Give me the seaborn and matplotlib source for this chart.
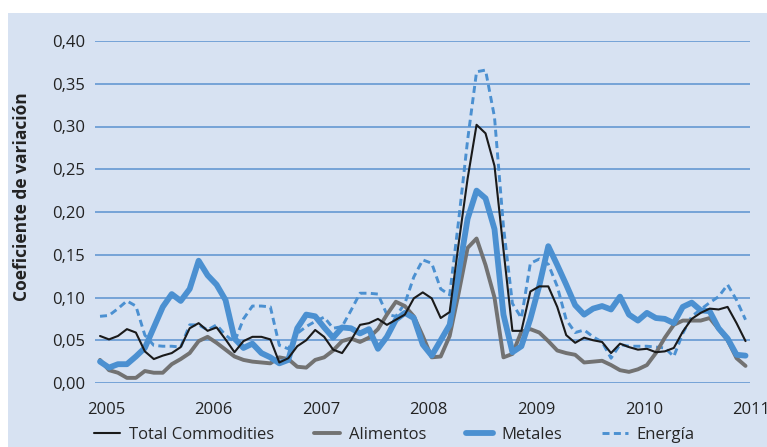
import numpy as np
import pandas as pd
import seaborn as sns
import matplotlib.pyplot as plt
from matplotlib.patches import Rectangle

# monthly coefficient of variation, Jan 2005 .. Jan 2011
total = [0.055, 0.051, 0.055, 0.063, 0.059, 0.037, 0.028, 0.032, 0.035, 0.042,
         0.064, 0.070, 0.061, 0.065, 0.051, 0.036, 0.049, 0.054, 0.054, 0.051,
         0.024, 0.029, 0.043, 0.050, 0.062, 0.054, 0.039, 0.035, 0.050, 0.068,
         0.070, 0.075, 0.068, 0.074, 0.080, 0.099, 0.106, 0.099, 0.076, 0.083,
         0.163, 0.239, 0.302, 0.292, 0.254, 0.156, 0.061, 0.061, 0.107, 0.113,
         0.113, 0.089, 0.056, 0.047, 0.053, 0.050, 0.048, 0.035, 0.046, 0.042,
         0.039, 0.040, 0.036, 0.037, 0.041, 0.060, 0.075, 0.082, 0.087, 0.086,
         0.089, 0.070, 0.049]
alimentos = [0.027, 0.015, 0.012, 0.006, 0.006, 0.014, 0.012, 0.012, 0.022, 0.028,
             0.035, 0.049, 0.054, 0.047, 0.039, 0.031, 0.027, 0.025, 0.024, 0.023,
             0.030, 0.028, 0.019, 0.018, 0.027, 0.030, 0.038, 0.049, 0.052, 0.048,
             0.053, 0.063, 0.080, 0.095, 0.090, 0.078, 0.055, 0.030, 0.031, 0.055,
             0.105, 0.158, 0.169, 0.138, 0.100, 0.030, 0.034, 0.060, 0.063, 0.059,
             0.049, 0.038, 0.035, 0.033, 0.024, 0.025, 0.026, 0.021, 0.015, 0.013,
             0.016, 0.021, 0.035, 0.053, 0.068, 0.073, 0.073, 0.073, 0.076, 0.063,
             0.050, 0.029, 0.020]
metales = [0.025, 0.018, 0.022, 0.022, 0.031, 0.041, 0.065, 0.089, 0.104, 0.096,
           0.110, 0.143, 0.126, 0.115, 0.097, 0.052, 0.041, 0.046, 0.035, 0.030,
           0.023, 0.027, 0.064, 0.080, 0.078, 0.065, 0.053, 0.065, 0.064, 0.058,
           0.063, 0.040, 0.054, 0.074, 0.082, 0.076, 0.045, 0.032, 0.050, 0.068,
           0.128, 0.192, 0.225, 0.216, 0.180, 0.080, 0.036, 0.043, 0.075, 0.114,
           0.160, 0.138, 0.115, 0.091, 0.080, 0.087, 0.090, 0.086, 0.101, 0.080,
           0.073, 0.082, 0.076, 0.075, 0.070, 0.089, 0.094, 0.085, 0.084, 0.064,
           0.052, 0.033, 0.032]
energia = [0.078, 0.079, 0.087, 0.096, 0.090, 0.056, 0.044, 0.043, 0.043, 0.042,
           0.068, 0.068, 0.062, 0.068, 0.056, 0.048, 0.075, 0.090, 0.090, 0.089,
           0.044, 0.040, 0.058, 0.066, 0.072, 0.077, 0.064, 0.066, 0.085, 0.105,
           0.105, 0.104, 0.080, 0.078, 0.093, 0.124, 0.144, 0.140, 0.110, 0.103,
           0.190, 0.284, 0.364, 0.366, 0.311, 0.183, 0.093, 0.076, 0.140, 0.145,
           0.139, 0.113, 0.074, 0.059, 0.062, 0.054, 0.048, 0.029, 0.045, 0.043,
           0.043, 0.043, 0.042, 0.041, 0.031, 0.058, 0.078, 0.086, 0.094, 0.101,
           0.115, 0.097, 0.074]
years = ['2005', '2006', '2007', '2008', '2009', '2010', '2011']
yticks = [0.0, 0.05, 0.10, 0.15, 0.20, 0.25, 0.30, 0.35, 0.40]

month = np.arange(len(total))
df = pd.DataFrame({'mes': month, 'Total Commodities': total, 'Alimentos': alimentos,
                   'Metales': metales, 'Energía': energia})

bg = '#d7e2f2'
blue = '#4b90d1'

sns.set_style('white')
plt.rcParams['font.family'] = ['Open Sans', 'DejaVu Sans']

fig = plt.figure(figsize=(7.67, 4.47), dpi=100)
fig.patch.set_facecolor('white')
fig.add_artist(Rectangle((8 / 767, 0), 1, 1 - 13 / 447, transform=fig.transFigure,
                         facecolor=bg, edgecolor='none', zorder=-10))
ax = fig.add_axes([95 / 767, 64 / 447, 655 / 767, 342 / 447])
ax.set_facecolor(bg)

# draw order: energy dashed, foods, metals, total on top
sns.lineplot(data=df, x='mes', y='Energía', ax=ax, color=blue, lw=2.1,
             linestyle=(0, (2.4, 1.5)), label='Energía', zorder=3)
sns.lineplot(data=df, x='mes', y='Alimentos', ax=ax, color='#727272', lw=2.8,
             label='Alimentos', zorder=4)
sns.lineplot(data=df, x='mes', y='Metales', ax=ax, color=blue, lw=4.2,
             label='Metales', zorder=5)
sns.lineplot(data=df, x='mes', y='Total Commodities', ax=ax, color='#1a1a1a', lw=1.5,
             label='Total Commodities', zorder=6)

ax.set_xlim(-0.56, 72.5)
ax.set_ylim(0, 0.40)
ax.set_yticks(yticks)
ax.set_yticklabels([f'{v:.2f}'.replace('.', ',') for v in yticks], fontsize=12, color='#222222')
ax.yaxis.grid(True, color='#5a92cf', lw=1.1)
ax.set_axisbelow(True)
ax.tick_params(axis='y', length=0, pad=7)
ax.set_xticks([])
ax.set_xlabel('')
ax.set_ylabel('Coeficiente de variación', fontsize=12.5, fontweight='bold',
              color='#222222', labelpad=8)
ax.yaxis.set_label_coords(-0.097, 0.545)
for s in ax.spines.values():
    s.set_visible(False)

# year labels under the axis (2011 runs off the right edge, as in the source)
for k, yr in enumerate(years):
    ax.text(12 * k + 0.67, -0.031, yr, ha='center', va='center', fontsize=12,
            color='#222222', transform=ax.transData, clip_on=False)

handles, labels = ax.get_legend_handles_labels()
order = [labels.index(n) for n in ['Total Commodities', 'Alimentos', 'Metales', 'Energía']]
ax.get_legend().remove()
fig.legend([handles[i] for i in order], [labels[i] for i in order], loc='center',
           bbox_to_anchor=(0.514, 0.027), ncol=4, frameon=False, fontsize=12,
           handlelength=1.6, handletextpad=0.5, columnspacing=2.4)

fig.savefig('out.png', dpi=100, facecolor=fig.get_facecolor())
